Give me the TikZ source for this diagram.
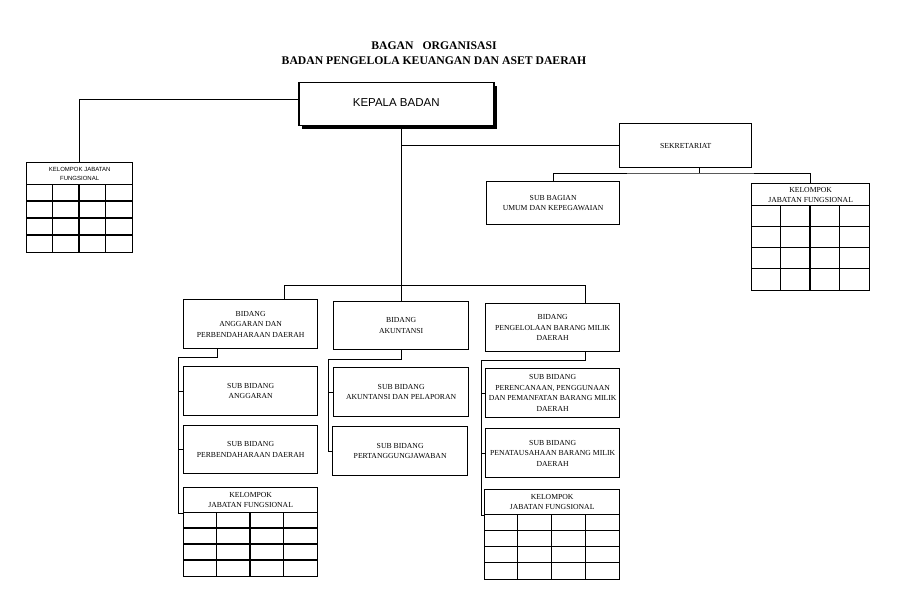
\documentclass[tikz,border=0pt]{standalone}
\usepackage{fontspec}
\setmainfont{Liberation Serif}
\newfontfamily\sansf{Liberation Sans}
\usetikzlibrary{shadows}

\tikzset{
  box/.style={draw, line width=1.3pt, fill=white, inner sep=0pt, align=center,
    font=\fontsize{7.7}{10.5}\selectfont, anchor=north west},
  conn/.style={line width=1pt},
  gridl/.style={line width=1.1pt},
  ttl/.style={font=\bfseries\fontsize{11.7}{15.5}\selectfont, align=center},
  headbox/.style={box, line width=1.5pt, font=\sansf\fontsize{11.5}{13}\selectfont,
    drop shadow={shadow xshift=3pt, shadow yshift=-3.5pt, fill=black, opacity=1}},
  tsans/.style={font=\sansf\fontsize{6}{8.6}\selectfont},
  tserif/.style={font=\fontsize{7.7}{10}\selectfont}
}
% box: name, x1, y1, x2, y2, text
\newcommand\bx[6]{\node[box, minimum width={(#4-#2)*1pt}, minimum height={(#5-#3)*1pt}] (#1) at (#2,#3) {#6};}
% table: name, x1, y1, x2, yh, y2, style, text
\newcommand\jft[8]{%
  \node[box, #7, minimum width={(#4-#2)*1pt}, minimum height={(#5-#3)*1pt}] (#1) at (#2,#3) {#8};
  \node[box, minimum width={(#4-#2)*1pt}, minimum height={(#6-#5)*1pt}] (#1b) at (#2,#5) {};
  \foreach \k in {1,2,3} {
    \draw[gridl] ({#2+\k*(#4-#2)/4},#5) -- ({#2+\k*(#4-#2)/4},#6);
    \draw[gridl] (#2,{#5+\k*(#6-#5)/4}) -- (#4,{#5+\k*(#6-#5)/4});
  }
}

\begin{document}
\begin{tikzpicture}[x=1pt,y=-1pt]
\fill[white] (0,0) rectangle (904,615);
\useasboundingbox (0,0) rectangle (904,615);

\node[ttl] (title) at (434,53) {BAGAN\hspace{9pt}ORGANISASI\\BADAN PENGELOLA KEUANGAN DAN ASET DAERAH};

\coordinate (sekj) at (699,173);
\coordinate (dA) at (284,285);
\coordinate (dC) at (585,285);
\coordinate (jA) at (217,357);
\coordinate (vA) at (178,357);
\coordinate (vB) at (328.5,359);
\coordinate (vC) at (481,360);

\node[headbox, minimum width=195pt, minimum height=43pt] (k) at (298,82) {\raisebox{-2pt}[0pt][0pt]{KEPALA BADAN}};

\bx{sek}{619}{123}{751}{167}{SEKRETARIAT}
\bx{sb}{486}{181}{619}{224}{SUB BAGIAN\\UMUM DAN KEPEGAWAIAN}

\jft{T0}{26}{162}{132}{184}{252}{tsans}{KELOMPOK JABATAN\\FUNGSIONAL}
\jft{T1}{751}{183}{869}{205}{290}{tserif}{KELOMPOK\\JABATAN FUNGSIONAL}

\bx{bA}{183}{299}{317}{348}{BIDANG\\ANGGARAN DAN\\PERBENDAHARAAN DAERAH}
\bx{bB}{333}{301}{468}{349}{BIDANG\\AKUNTANSI}
\bx{bC}{485}{303}{619}{351}{BIDANG\\PENGELOLAAN BARANG MILIK\\DAERAH}

\bx{sA1}{183}{366}{317}{415}{SUB BIDANG\\ANGGARAN}
\bx{sA2}{183}{425}{317}{473}{SUB BIDANG\\PERBENDAHARAAN DAERAH}
\jft{T2}{183}{487}{317}{512}{576}{tserif}{KELOMPOK\\JABATAN FUNGSIONAL}

\bx{sB1}{333}{367}{468}{416}{SUB BIDANG\\AKUNTANSI DAN PELAPORAN}
\bx{sB2}{332}{426}{467}{475}{SUB BIDANG\\PERTANGGUNGJAWABAN}

\bx{sC1}{485}{368}{619}{417}{SUB BIDANG\\PERENCANAAN, PENGGUNAAN\\DAN PEMANFATAN BARANG MILIK\\DAERAH}
\bx{sC2}{485}{428}{619}{477}{SUB BIDANG\\PENATAUSAHAAN BARANG MILIK\\DAERAH}
\jft{T3}{484}{489}{619}{514}{579}{tserif}{KELOMPOK\\JABATAN FUNGSIONAL}

% connectors
\draw[conn] ([yshift=4.5pt]k.west) -| (T0.north);
\draw[conn] (k.south -| bB.north) -- (bB.north);
\draw[conn] (sek.west -| bB.north) -- (sek.west);
\draw[conn] (sek.south -| sekj) -- (sekj);
\draw[conn] (sb.north) |- (sekj) -| (T1.north);
\draw[conn] (dA |- bA.north) -- (dA) -- (dC) -- (dC |- bC.north);

\draw[conn] (jA |- bA.south) -- (jA) -- (vA) |- (T2.south west);
\draw[conn] (sA1.west) -- (sA1.west -| vA);
\draw[conn] (sA2.west) -- (sA2.west -| vA);

\draw[conn] (bB.south) |- (vB) |- (sB2.west);
\draw[conn] (sB1.west) -- (sB1.west -| vB);

\draw[conn] (dC |- bC.south) |- (vC) |- (T3.south west);
\draw[conn] (sC1.west) -- (sC1.west -| vC);
\draw[conn] (sC2.west) -- (sC2.west -| vC);
\end{tikzpicture}
\end{document}
